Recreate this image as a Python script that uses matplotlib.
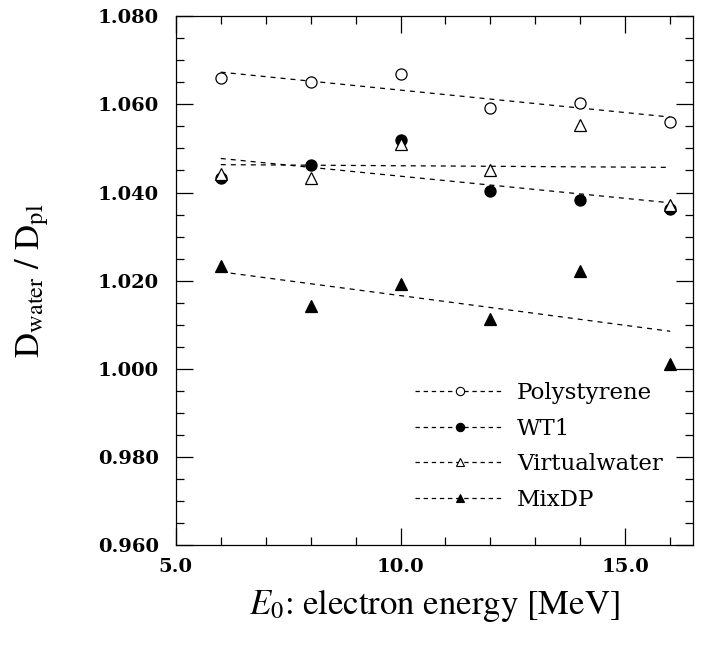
import numpy as np
import matplotlib
matplotlib.use("Agg")
import matplotlib.pyplot as plt
from matplotlib.ticker import MultipleLocator, FormatStrFormatter

plt.rcParams['mathtext.fontset'] = 'stix'

energy = [6, 8, 10, 12, 14, 16]
polystyrene = [1.0659, 1.0650, 1.0670, 1.0591, 1.0602, 1.0561]
wt1 = [1.0432, 1.0462, 1.0520, 1.0403, 1.0383, 1.0362]
virtualwater = [1.0441, 1.0433, 1.0510, 1.0452, 1.0553, 1.0372]
mixdp = [1.0233, 1.0143, 1.0192, 1.0113, 1.0223, 1.0012]

series = [
    ("Polystyrene", polystyrene, "o", "white"),
    ("WT1", wt1, "o", "black"),
    ("Virtualwater", virtualwater, "^", "white"),
    ("MixDP", mixdp, "^", "black"),
]

fig = plt.figure(figsize=(7.09, 6.49), dpi=100)
ax = fig.add_axes([0.248, 0.160, 0.729, 0.815])

x = np.array(energy, dtype=float)
for name, vals, mk, fc in series:
    # linear least-squares fit, drawn dashed across the data range
    coef = np.polyfit(x, vals, 1)
    ax.plot(x, np.polyval(coef, x), color="black", lw=0.9, dashes=(4, 4), zorder=1)
    ax.plot(x, vals, linestyle="none", marker=mk, markersize=8 if mk == "o" else 8.5,
            mfc=fc, mec="black", mew=0.9, zorder=3)
    # legend proxy
    ax.plot([], [], color="black", lw=0.9, dashes=(3.5, 3), marker=mk, markersize=6,
            mfc=fc, mec="black", mew=0.8, label=name)

ax.set_xlim(5, 16.5)
ax.set_ylim(0.96, 1.08)
ax.xaxis.set_major_locator(MultipleLocator(5))
ax.xaxis.set_minor_locator(MultipleLocator(1))
ax.yaxis.set_major_locator(MultipleLocator(0.02))
ax.yaxis.set_minor_locator(MultipleLocator(0.005))
ax.xaxis.set_major_formatter(FormatStrFormatter("%.1f"))
ax.yaxis.set_major_formatter(FormatStrFormatter("%.3f"))
ax.tick_params(which="both", direction="in", top=True, right=True, width=0.9)
ax.tick_params(which="major", length=12)
ax.tick_params(which="minor", length=6)
ax.tick_params(axis="y", which="major", pad=12)
ax.tick_params(axis="x", which="major", pad=9)
for lab in ax.get_xticklabels() + ax.get_yticklabels():
    lab.set_fontfamily("DejaVu Serif")
    lab.set_fontweight("bold")
    lab.set_fontsize(14)
for s in ax.spines.values():
    s.set_linewidth(0.9)

ax.set_xlabel(r"$E_0$: electron energy [MeV]", fontfamily="STIXGeneral",
              fontsize=25, labelpad=8)
ax.set_ylabel(r"D$_{\mathrm{water}}$ / D$_{\mathrm{pl}}$", fontfamily="STIXGeneral",
              fontsize=25, labelpad=34)

leg = ax.legend(loc="upper left", bbox_to_anchor=(415 / 709, 1 - 382 / 649),
                bbox_transform=fig.transFigure, frameon=False, borderpad=0,
                borderaxespad=0, prop={"family": "DejaVu Serif", "size": 16.5},
                handlelength=3.9, handletextpad=0.55, labelspacing=0.6)

fig.savefig("out.png", dpi=100)
